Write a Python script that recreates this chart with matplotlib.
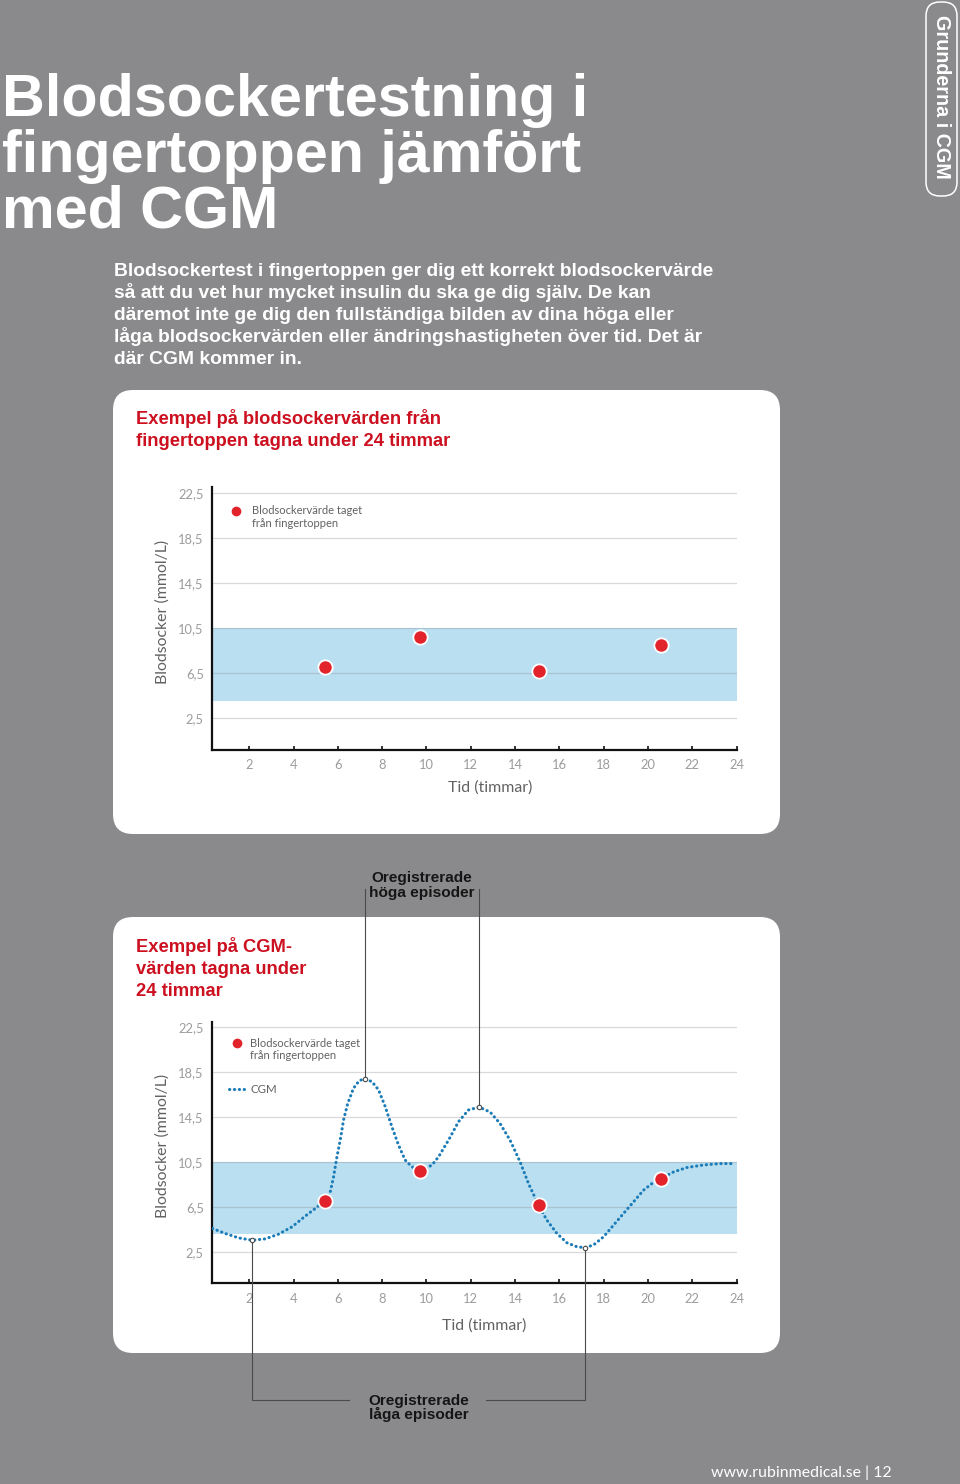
import matplotlib
matplotlib.use('Agg')
import matplotlib.pyplot as plt
from matplotlib.patches import FancyBboxPatch

# ---------------- data ----------------
hour_ticks = [2, 4, 6, 8, 10, 12, 14, 16, 18, 20, 22, 24]
hour_labels = ['2', '4', '6', '8', '10', '12', '14', '16', '18', '20', '22', '24']
glucose_ticks = [2.5, 6.5, 10.5, 14.5, 18.5, 22.5]
glucose_labels = ['2,5', '6,5', '10,5', '14,5', '18,5', '22,5']
target_low = 4.05
target_high = 10.5

finger_hours = [5.40, 9.72, 15.10, 20.59]
finger_values = [7.04, 9.72, 6.65, 9.00]

cgm_hours = [0.34, 0.92, 1.52, 2.14, 2.72, 3.32, 3.93, 4.53, 4.98, 5.40,
             5.66, 5.81, 5.96, 6.11, 6.26, 6.45, 6.71, 6.97, 7.21, 7.54,
             7.84, 8.14, 8.44, 8.74, 9.04, 9.34, 9.74, 10.25, 10.55, 11.00,
             11.45, 11.90, 12.38, 12.88, 13.33, 13.78, 14.23, 14.61, 15.06, 15.44,
             15.89, 16.34, 16.79, 17.14, 17.54, 18.00, 18.45, 18.90, 19.35, 19.80,
             20.18, 20.59, 21.16, 21.76, 22.51, 23.26, 23.94]
cgm_values = [4.57, 4.12, 3.73, 3.52, 3.64, 4.06, 4.71, 5.67, 6.35, 7.04,
              7.84, 9.18, 10.96, 12.45, 14.24, 15.73, 17.07, 17.75, 17.90, 17.66,
              16.92, 15.43, 13.64, 12.01, 10.67, 10.07, 9.71, 10.22, 10.96, 12.45,
              14.09, 15.13, 15.39, 14.94, 13.91, 12.43, 10.50, 8.57, 6.65, 5.31,
              4.13, 3.30, 2.94, 2.86, 3.09, 3.83, 4.87, 5.91, 6.94, 7.98,
              8.57, 9.02, 9.61, 10.00, 10.23, 10.35, 10.35]

title_lines = ['Blodsockertestning i', 'fingertoppen jämfört', 'med CGM']
intro_lines = ['Blodsockertest i fingertoppen ger dig ett korrekt blodsockervärde',
               'så att du vet hur mycket insulin du ska ge dig själv. De kan',
               'däremot inte ge dig den fullständiga bilden av dina höga eller',
               'låga blodsockervärden eller ändringshastigheten över tid. Det är',
               'där CGM kommer in.']
card1_title = ['Exempel på blodsockervärden från', 'fingertoppen tagna under 24 timmar']
card2_title = ['Exempel på CGM-', 'värden tagna under', '24 timmar']
legend_finger = 'Blodsockervärde taget\nfrån fingertoppen'
legend_cgm = 'CGM'
ylabel_text = 'Blodsocker (mmol/L)'
xlabel_text = 'Tid (timmar)'
high_label = 'Oregistrerade\nhöga episoder'
low_label = 'Oregistrerade\nlåga episoder'
side_tab = 'Grunderna i CGM'
footer = 'www.rubinmedical.se | 12'

# ---------------- styles ----------------
W, H = 960, 1484
BG = '#8a8a8c'
RED_T = '#cc1020'
DOT = '#e3232c'
BLUE = '#1b7cb8'
BAND = '#b9dff0'
BOLD = ['Liberation Sans', 'DejaVu Sans']
LIGHT = ['Lato', 'DejaVu Sans']
TICKC = '#9c9c9c'
LABC = '#626262'
CGM_LS = (0, (0.1, 1.5))

fig = plt.figure(figsize=(W / 100, H / 100), dpi=100)
fig.patch.set_facecolor(BG)
renderer = fig.canvas.get_renderer()

bg = fig.add_axes([0, 0, 1, 1], zorder=0)
bg.set_xlim(0, W); bg.set_ylim(H, 0); bg.axis('off')

top = fig.add_axes([0, 0, 1, 1], zorder=10)
top.set_xlim(0, W); top.set_ylim(H, 0); top.axis('off')
top.patch.set_alpha(0)


def fit_width(t, target, use_height=False):
    bb = t.get_window_extent(renderer)
    cur = bb.height if use_height else bb.width
    t.set_fontsize(t.get_fontsize() * target / cur)
    return t.get_fontsize()


# cards
for (x0, y0, x1, y1) in [(113, 390, 780, 834), (113, 917, 780, 1353)]:
    bg.add_patch(FancyBboxPatch((x0, y0), x1 - x0, y1 - y0,
                                boxstyle='round,pad=0,rounding_size=20',
                                fc='white', ec='none', zorder=1))

# side tab
bg.add_patch(FancyBboxPatch((926, 2), 31, 194, boxstyle='round,pad=0,rounding_size=14',
                            fc='none', ec='white', lw=1.1, zorder=2))
t = bg.text(941.5, 97, side_tab, rotation=-90, ha='center', va='center', color='white',
            family=BOLD, weight='bold', fontsize=13)
fit_width(t, 163, use_height=True)

# main title
baselines = [116, 172, 228]
fs = None
for i, (line, yb) in enumerate(zip(title_lines, baselines)):
    t = bg.text(2, yb, line, ha='left', va='baseline', color='white', family=BOLD,
                weight='bold', fontsize=44 if fs is None else fs)
    if fs is None:
        fs = fit_width(t, 586)

# intro paragraph
fs = None
for i, line in enumerate(intro_lines):
    t = bg.text(114, 276.5 + 22 * i, line, ha='left', va='baseline', color='white',
                family=BOLD, weight='bold', fontsize=12 if fs is None else fs)
    if fs is None:
        fs = fit_width(t, 600)

# card titles
fs = None
for i, line in enumerate(card1_title):
    t = bg.text(136, 424.5 + 21 * i, line, ha='left', va='baseline', color=RED_T,
                family=BOLD, weight='bold', fontsize=14 if fs is None else fs)
    if fs is None:
        fs = fit_width(t, 306)
for i, line in enumerate(card2_title):
    bg.text(136, 952 + 22 * i, line, ha='left', va='baseline', color=RED_T,
            family=BOLD, weight='bold', fontsize=fs)

# footer
t = bg.text(892, 1476.5, footer, ha='right', va='baseline', color='white',
            family=LIGHT, weight='normal', fontsize=11)
fit_width(t, 181)


# ---------------- charts ----------------
def make_axes(x0, ytop, x1, ybot):
    ax = fig.add_axes([x0 / W, 1 - ybot / H, (x1 - x0) / W, (ybot - ytop) / H], zorder=5)
    ax.set_xlim(0.32, 24)
    ax.set_ylim(-0.3, 23.0)
    ax.patch.set_alpha(0)
    ax.axhspan(target_low, target_high, color=BAND, lw=0, zorder=0)
    for yv in glucose_ticks:
        ax.axhline(yv, color=(0.55, 0.55, 0.58, 0.33), lw=0.9, zorder=1)
    for s in ['top', 'right']:
        ax.spines[s].set_visible(False)
    for s in ['left', 'bottom']:
        ax.spines[s].set_linewidth(1.6)
        ax.spines[s].set_color('#111111')
    ax.set_xticks(hour_ticks)
    ax.set_xticklabels(hour_labels, family=LIGHT, weight='normal')
    ax.set_yticks(glucose_ticks)
    ax.set_yticklabels(glucose_labels, family=LIGHT, weight='normal')
    ax.tick_params(axis='x', direction='in', length=3, width=1.2, color='#111111',
                   pad=7, labelsize=9.3, labelcolor=TICKC)
    ax.tick_params(axis='y', length=0, pad=6, labelsize=9.3, labelcolor=TICKC)
    ax.set_ylabel(ylabel_text, family=LIGHT, weight='normal', fontsize=11.4, color=LABC)
    ax.yaxis.set_label_coords(-0.081, 0.523)
    ax.set_xlabel(xlabel_text, family=LIGHT, weight='normal', fontsize=11.4, color=LABC)
    return ax


ax1 = make_axes(212, 487.4, 736.5, 749.5)
ax1.xaxis.set_label_coords(0.531, -0.118)
ax1.plot(finger_hours, finger_values, 'o', ms=10.3, mfc=DOT, mec='white', mew=1.3,
         zorder=4, clip_on=False)

ax2 = make_axes(212, 1021.7, 736.5, 1283.1)
ax2.xaxis.set_label_coords(0.518, -0.136)
ax2.plot(cgm_hours, cgm_values, color=BLUE, lw=2.2, linestyle=CGM_LS,
         dash_capstyle='round', zorder=3)
ax2.plot(finger_hours, finger_values, 'o', ms=10.3, mfc=DOT, mec='white', mew=1.3,
         zorder=4, clip_on=False)

# legends (overlay, pixel coordinates)
top.plot([236], [510.5], 'o', ms=7, color=DOT, mew=0)
top.text(252.5, 517, legend_finger, ha='left', va='center', family=LIGHT, weight='normal',
         fontsize=8, color=LABC, linespacing=1.2)
top.plot([237], [1043], 'o', ms=7, color=DOT, mew=0)
top.text(250.5, 1049.5, legend_finger, ha='left', va='center', family=LIGHT, weight='normal',
         fontsize=8, color=LABC, linespacing=1.2)
top.plot([229, 245], [1089.3, 1089.3], color=BLUE, lw=2.2, linestyle=CGM_LS,
         dash_capstyle='round')
top.text(250.5, 1089.3, legend_cgm, ha='left', va='center', family=LIGHT, weight='normal',
         fontsize=8.3, color=LABC)


# annotations
def to_px(ax, x, y):
    d = ax.transData.transform((x, y))
    return top.transData.inverted().transform(d)


def extreme(lo, hi, fn):
    idx = [i for i, h in enumerate(cgm_hours) if lo < h < hi]
    vals = [cgm_values[i] for i in idx]
    j = idx[vals.index(fn(vals))]
    return cgm_hours[j], cgm_values[j]


LINE = '#4a4a4a'
highs = [to_px(ax2, *extreme(5, 10, max)), to_px(ax2, *extreme(10, 14, max))]
lows = [to_px(ax2, *extreme(0, 5, min)), to_px(ax2, *extreme(14, 20, min))]

for (px, py) in highs:
    top.plot([px, px], [889, py], color=LINE, lw=0.8, zorder=1)
    top.plot([px], [py], 'o', ms=3.2, mfc='white', mec=LINE, mew=0.8, zorder=2)
(lx, ly), (rx, ry) = lows
top.plot([lx, lx, 349], [ly, 1400.3, 1400.3], color=LINE, lw=0.8, zorder=1)
top.plot([rx, rx, 486], [ry, 1400.3, 1400.3], color=LINE, lw=0.8, zorder=1)
for (px, py) in lows:
    top.plot([px], [py], 'o', ms=3.2, mfc='white', mec=LINE, mew=0.8, zorder=2)

t = top.text(421.5, 882.3, high_label.split('\n')[0], ha='center', va='baseline',
             family=BOLD, weight='bold', fontsize=11, color='#151515')
fs = fit_width(t, 101)
top.text(421.5, 896.7, high_label.split('\n')[1], ha='center', va='baseline',
         family=BOLD, weight='bold', fontsize=fs, color='#151515')
top.text(418.5, 1405, low_label.split('\n')[0], ha='center', va='baseline',
         family=BOLD, weight='bold', fontsize=fs, color='#151515')
top.text(418.5, 1419.5, low_label.split('\n')[1], ha='center', va='baseline',
         family=BOLD, weight='bold', fontsize=fs, color='#151515')

fig.savefig('out.png', dpi=100, facecolor=BG)
